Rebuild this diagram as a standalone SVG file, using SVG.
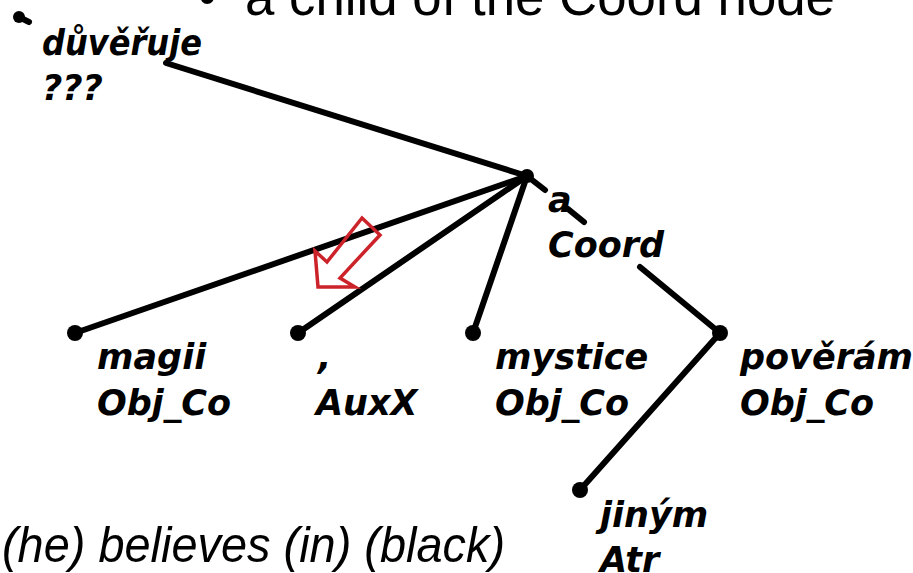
<svg xmlns="http://www.w3.org/2000/svg" width="913" height="573" viewBox="0 0 913 573">
<style>
.lbl{font-family:"DejaVu Sans",sans-serif;font-weight:bold;font-style:oblique;font-size:35px;fill:#000}
.big{font-family:"Liberation Sans",Arial,sans-serif;fill:#000}
.edge{stroke:#000;stroke-width:6;stroke-linecap:round;fill:none}
.dot{fill:#000}
</style>
<rect width="913" height="573" fill="#fff"/>
<text class="big" x="198" y="15" font-size="53">•</text>
<text class="big" x="245" y="15" font-size="53" textLength="590" lengthAdjust="spacingAndGlyphs">a child of the Coord node</text>
<text class="big" x="2" y="562" font-size="50" font-style="italic" textLength="503" lengthAdjust="spacingAndGlyphs">(he) believes (in) (black)</text>
<g id="connectors">
<line class="edge" x1="166" y1="63" x2="527" y2="176"/>
<line class="edge" x1="527" y1="176" x2="75" y2="333"/>
<line class="edge" x1="527" y1="176" x2="298" y2="333"/>
<line class="edge" x1="527" y1="176" x2="473" y2="333"/>
<line class="edge" x1="527" y1="176" x2="545" y2="190"/>
<line class="edge" x1="568" y1="209" x2="584" y2="222"/>
<line class="edge" x1="640" y1="267" x2="720" y2="333"/>
<line class="edge" x1="720" y1="333" x2="580" y2="490"/>
</g>
<g id="n-duveruje">
<circle class="dot" cx="19" cy="17" r="6"/>
<line class="edge" x1="19" y1="17" x2="29" y2="22"/>
<text class="lbl" x="42" y="55" textLength="160" lengthAdjust="spacingAndGlyphs">důvěřuje</text>
<text class="lbl" x="42" y="100">???</text>
</g>
<g id="n-coord">
<circle class="dot" cx="527" cy="176" r="7"/>
<text class="lbl" x="548" y="212">a</text>
<text class="lbl" x="548" y="257">Coord</text>
</g>
<g id="n-magii">
<circle class="dot" cx="75" cy="333" r="8"/>
<text class="lbl" x="97" y="369">magii</text>
<text class="lbl" x="97" y="415">Obj_Co</text>
</g>
<g id="n-auxx">
<circle class="dot" cx="298" cy="333" r="8"/>
<text class="lbl" x="318" y="369">,</text>
<text class="lbl" x="316" y="415">AuxX</text>
</g>
<g id="n-mystice">
<circle class="dot" cx="473" cy="333" r="8"/>
<text class="lbl" x="495" y="369">mystice</text>
<text class="lbl" x="495" y="415">Obj_Co</text>
</g>
<g id="n-poveram">
<circle class="dot" cx="720" cy="333" r="8"/>
<text class="lbl" x="740" y="369">pověrám</text>
<text class="lbl" x="740" y="415">Obj_Co</text>
</g>
<g id="n-jinym">
<circle class="dot" cx="580" cy="490" r="8"/>
<text class="lbl" x="600" y="527">jiným</text>
<text class="lbl" x="600" y="572">Atr</text>
</g>
<g id="red-arrow">
<polygon points="362,218 380,235 340,278 355,287 318,287 315,251 327,262" fill="none" stroke="#cc2229" stroke-width="3.5" stroke-linejoin="miter"/>
</g>
</svg>
